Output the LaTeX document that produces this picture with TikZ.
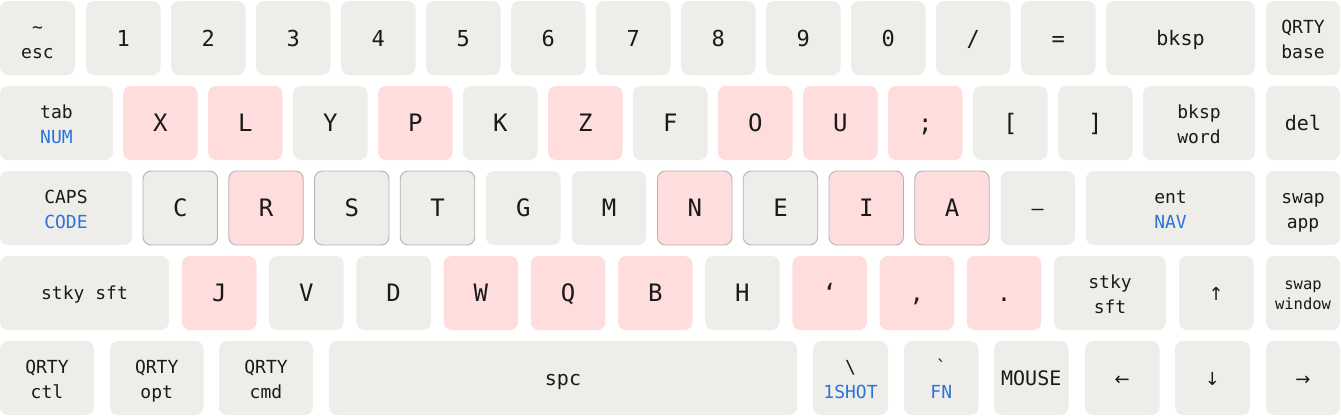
\documentclass[tikz,border=0pt]{standalone}
\usepackage{fontspec}
\newfontfamily\kf{DejaVu Sans Mono}
\newfontfamily\af{DejaVu Sans}
\definecolor{keygray}{RGB}{238,237,234}
\definecolor{keypink}{RGB}{255,221,221}
\definecolor{keyline}{RGB}{178,178,178}
\definecolor{keyblue}{RGB}{43,116,217}
\definecolor{keyink}{RGB}{26,26,26}
\tikzset{
  key/.style={rectangle, rounded corners=8pt, fill=keygray, draw=none,
    minimum height=74pt, inner sep=0pt, outer sep=0pt, anchor=north west, text=keyink},
  pinkkey/.style={fill=keypink},
  edged/.style={draw=keyline, line width=0.9pt},
  bigtext/.style={font=\kf\fontsize{24}{28}\selectfont, text height=17.5pt, text depth=0pt},
  digittext/.style={font=\kf\fontsize{22}{26}\selectfont, text height=16pt, text depth=0pt},
  midtext/.style={font=\kf\fontsize{20}{24}\selectfont, text height=14.6pt, text depth=0pt},
  arrowtext/.style={font=\af\fontsize{18}{22}\selectfont, text height=14.6pt, text depth=0pt},
  smalltext/.style={font=\kf\fontsize{18}{22}\selectfont, text height=13.1pt, text depth=0pt},
  lbl/.style={font=\kf\fontsize{18}{22}\selectfont, inner sep=0pt, outer sep=0pt, anchor=base, text=keyink},
  tinylbl/.style={font=\kf\fontsize{15.5}{18}\selectfont},
  bluetext/.style={text=keyblue},
}
% single-label key: name, x, y, width, style, text
\newcommand\K[6]{\node[key,minimum width=#4pt,#5] (#1) at (#2,#3) {#6};}
% two-line key: name, x, y, width, key style, line1, line2, line2 style
\newcommand\KK[8]{%
  \node[key,minimum width=#4pt,#5] (#1) at (#2,#3) {};
  \node[lbl] (#1-a) at ([yshift=5pt]#1.center) {#6};
  \node[lbl,#8] (#1-b) at ([yshift=-20pt]#1.center) {#7};}
\begin{document}
\begin{tikzpicture}[x=1pt,y=-1pt]
\useasboundingbox (0,0) rectangle (1341,416);
% ---- row 1
\KK{esc}{0}{1}{75}{}{\symbol{"7E}}{esc}{}
\K{n1}{86}{1}{74.5}{digittext}{1}
\K{n2}{171}{1}{74.5}{digittext}{2}
\K{n3}{256}{1}{74.5}{digittext}{3}
\K{n4}{341}{1}{74.5}{digittext}{4}
\K{n5}{426}{1}{74.5}{digittext}{5}
\K{n6}{511}{1}{74.5}{digittext}{6}
\K{n7}{596}{1}{74.5}{digittext}{7}
\K{n8}{681}{1}{74.5}{digittext}{8}
\K{n9}{766}{1}{74.5}{digittext}{9}
\K{n0}{851}{1}{74.5}{digittext}{0}
\K{slash}{936}{1}{74.5}{digittext}{/}
\K{equal}{1021}{1}{74.5}{digittext}{=}
\K{bksp}{1106}{1}{149}{midtext}{bksp}
\KK{qbase}{1266}{1}{74}{}{QRTY}{base}{}
% ---- row 2
\KK{tab}{0}{86}{113}{}{tab}{NUM}{bluetext}
\K{kX}{123}{86}{74.5}{bigtext,pinkkey}{X}
\K{kL}{208}{86}{74.5}{bigtext,pinkkey}{L}
\K{kY}{293}{86}{74.5}{bigtext}{Y}
\K{kP}{378}{86}{74.5}{bigtext,pinkkey}{P}
\K{kK}{463}{86}{74.5}{bigtext}{K}
\K{kZ}{548}{86}{74.5}{bigtext,pinkkey}{Z}
\K{kF}{633}{86}{74.5}{bigtext}{F}
\K{kO}{718}{86}{74.5}{bigtext,pinkkey}{O}
\K{kU}{803}{86}{74.5}{bigtext,pinkkey}{U}
\K{ksemi}{888}{86}{74.5}{bigtext,pinkkey}{;}
\K{klbr}{973}{86}{74.5}{bigtext}{[}
\K{krbr}{1058}{86}{74.5}{bigtext}{]}
\KK{bword}{1143}{86}{112}{}{bksp}{word}{}
\K{del}{1266}{86}{74}{midtext}{del}
% ---- row 3
\KK{caps}{0}{171}{132}{}{CAPS}{CODE}{bluetext}
\K{kC}{143}{171}{74.5}{bigtext,edged}{C}
\K{kR}{228.75}{171}{74.5}{bigtext,pinkkey,edged}{R}
\K{kS}{314.5}{171}{74.5}{bigtext,edged}{S}
\K{kT}{400.25}{171}{74.5}{bigtext,edged}{T}
\K{kG}{486}{171}{74.5}{bigtext}{G}
\K{kM}{571.75}{171}{74.5}{bigtext}{M}
\K{kN}{657.5}{171}{74.5}{bigtext,pinkkey,edged}{N}
\K{kE}{743.25}{171}{74.5}{bigtext,edged}{E}
\K{kI}{829}{171}{74.5}{bigtext,pinkkey,edged}{I}
\K{kA}{914.75}{171}{74.5}{bigtext,pinkkey,edged}{A}
\K{kdash}{1000.5}{171}{74.5}{midtext}{\symbol{"2013}}
\KK{ent}{1086}{171}{169}{}{ent}{NAV}{bluetext}
\KK{swapapp}{1266}{171}{74}{}{swap}{app}{}
% ---- row 4
\K{lshift}{0}{256}{169}{smalltext}{stky sft}
\K{kJ}{182}{256}{74.5}{bigtext,pinkkey}{J}
\K{kV}{269.2}{256}{74.5}{bigtext}{V}
\K{kD}{356.4}{256}{74.5}{bigtext}{D}
\K{kW}{443.6}{256}{74.5}{bigtext,pinkkey}{W}
\K{kQ}{530.8}{256}{74.5}{bigtext,pinkkey}{Q}
\K{kB}{618}{256}{74.5}{bigtext,pinkkey}{B}
\K{kH}{705.2}{256}{74.5}{bigtext}{H}
\K{kquote}{792.4}{256}{74.5}{bigtext,pinkkey}{\symbol{"2018}}
\K{kcomma}{879.6}{256}{74.5}{bigtext,pinkkey}{,}
\K{kdot}{966.8}{256}{74.5}{bigtext,pinkkey}{.}
\KK{rshift}{1054}{256}{112}{}{stky}{sft}{}
\K{up}{1179}{256}{74.5}{arrowtext}{\symbol{"2191}}
\node[key,minimum width=74pt] (swapwin) at (1266,256) {};
\node[lbl,tinylbl] (swapwin-a) at ([yshift=4pt]swapwin.center) {swap};
\node[lbl,tinylbl] (swapwin-b) at ([yshift=-16pt]swapwin.center) {window};
% ---- row 5
\KK{qctl}{0}{341}{94}{}{QRTY}{ctl}{}
\KK{qopt}{110}{341}{93.5}{}{QRTY}{opt}{}
\KK{qcmd}{219}{341}{94}{}{QRTY}{cmd}{}
\K{spc}{329}{341}{468}{midtext}{spc}
\KK{oneshot}{813}{341}{75}{}{\symbol{"5C}}{1SHOT}{bluetext}
\KK{fn}{904}{341}{74.5}{}{\symbol{"60}}{FN}{bluetext}
\K{mouse}{994}{341}{74.5}{midtext}{MOUSE}
\K{left}{1085}{341}{74.5}{arrowtext}{\symbol{"2190}}
\K{down}{1175}{341}{75}{arrowtext}{\symbol{"2193}}
\K{right}{1266}{341}{74}{arrowtext}{\symbol{"2192}}
\end{tikzpicture}
\end{document}
